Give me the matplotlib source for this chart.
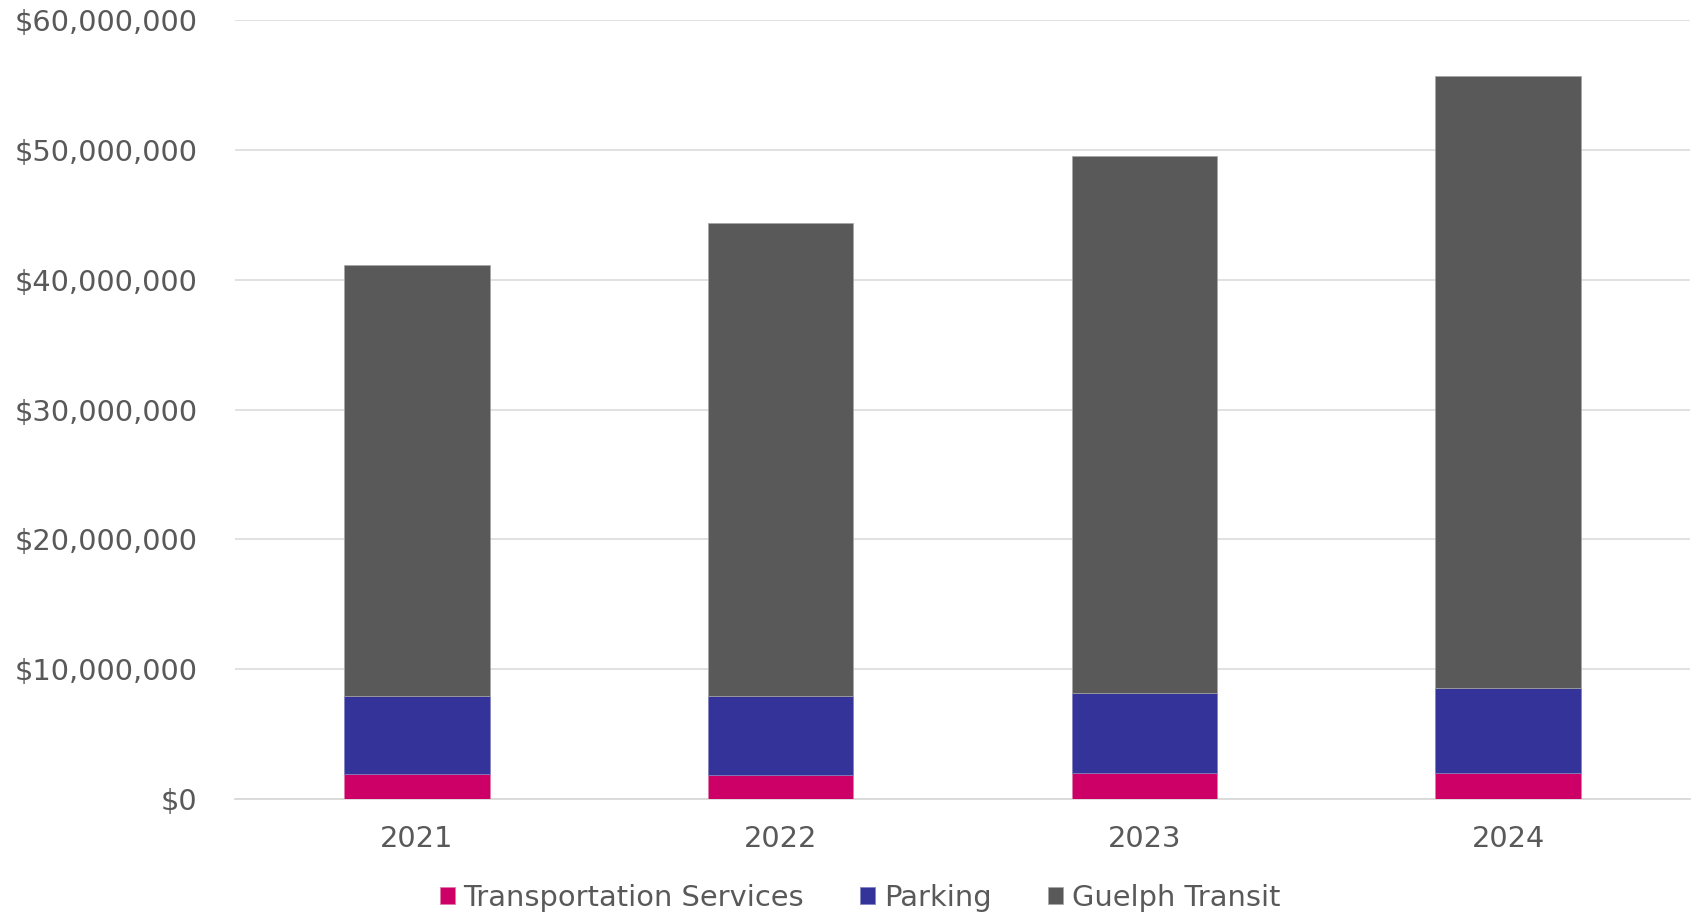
import matplotlib.pyplot as plt
from matplotlib.ticker import FuncFormatter

annees = ["2021", "2022", "2023", "2024"]
transport = [1.90e6, 1.83e6, 1.98e6, 1.98e6]
parking = [6.01e6, 6.08e6, 6.16e6, 6.55e6]
transit = [33.20e6, 36.43e6, 41.39e6, 47.16e6]

couleurs = {"Transportation Services": "#CC0066",
            "Parking": "#333399",
            "Guelph Transit": "#595959"}
gris_texte = "#595959"
taille = 20.8

plt.rcParams['font.family'] = ['DejaVu Sans']

fig = plt.figure(figsize=(16.98, 9.15), dpi=100)
ax = fig.add_axes([0.1384, 0.1268, 0.8569, 0.8513])

x = list(range(len(annees)))
largeur = 0.40
bas2 = transport
bas3 = [a + b for a, b in zip(transport, parking)]

ax.bar(x, transport, width=largeur, color=couleurs["Transportation Services"],
       label="Transportation Services", zorder=3, edgecolor="#e07aa8", linewidth=0.5)
ax.bar(x, parking, width=largeur, bottom=bas2, color=couleurs["Parking"],
       label="Parking", zorder=3, edgecolor="#8080c0", linewidth=0.5)
ax.bar(x, transit, width=largeur, bottom=bas3, color=couleurs["Guelph Transit"],
       label="Guelph Transit", zorder=3, edgecolor="#a6a6a6", linewidth=0.5)

ax.set_xlim(-0.5, len(annees) - 0.5)
ax.set_ylim(0, 60e6)
ax.set_yticks([i * 10e6 for i in range(7)])
ax.yaxis.set_major_formatter(FuncFormatter(lambda v, p: "${:,.0f}".format(v)))
ax.set_xticks(x)
ax.set_xticklabels(annees)

ax.grid(axis='y', color="#d9d9d9", linewidth=1.1, zorder=0)
for s in ["top", "right", "left"]:
    ax.spines[s].set_visible(False)
ax.spines["bottom"].set_color("#d9d9d9")
ax.spines["bottom"].set_linewidth(1.3)

ax.tick_params(axis='y', length=0, pad=27, labelsize=taille, labelcolor=gris_texte)
ax.tick_params(axis='x', length=0, pad=19, labelsize=taille, labelcolor=gris_texte)

# légende en bas, centrée sur la figure
leg = fig.legend(loc="center", bbox_to_anchor=(0.5065, 0.019), ncol=3, frameon=False,
                 fontsize=taille, handlelength=0.52, handleheight=0.52,
                 handletextpad=0.3, columnspacing=1.95)
for t in leg.get_texts():
    t.set_color(gris_texte)

fig.savefig("out.png", dpi=100)
